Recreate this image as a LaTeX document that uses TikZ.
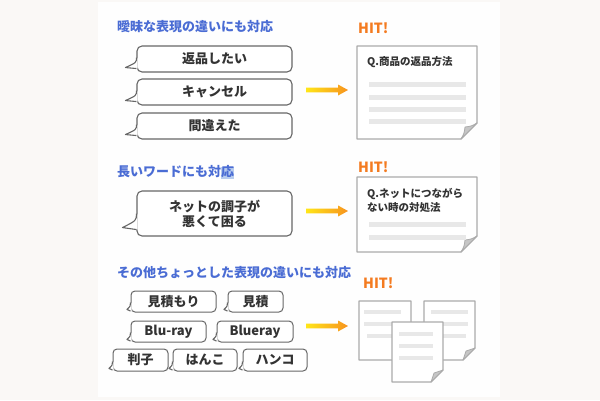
\documentclass[tikz,border=0pt]{standalone}
\usepackage{fontspec}
\setmainfont{Noto Sans CJK JP}
\usetikzlibrary{calc}
\definecolor{bg}{HTML}{FAF8F6}
\definecolor{panel}{HTML}{FEFEFE}
\definecolor{ttl}{HTML}{4A6CD4}
\definecolor{hit}{HTML}{F47B20}
\definecolor{txt}{HTML}{333333}
\definecolor{bub}{HTML}{666666}
\definecolor{docb}{HTML}{ABABAB}
\definecolor{barc}{HTML}{E8E8E8}
\definecolor{foldc}{HTML}{C6C6C6}
\definecolor{ay}{HTML}{FFE619}
\definecolor{ao}{HTML}{F7931E}
\definecolor{hl}{HTML}{B9CDEE}
\tikzset{
  ttlstyle/.style={anchor=west, text=ttl, font=\fontsize{13}{15}\selectfont\bfseries, inner sep=0},
  hitstyle/.style={anchor=west, text=hit, font=\fontsize{14}{16}\selectfont\bfseries, inner sep=0},
  bubble/.style={draw=bub, line width=1.1pt, fill=white, rounded corners=5pt, text=txt,
    font=\fontsize{13}{15}\selectfont\bfseries, align=center, inner sep=0},
  sbubble/.style={bubble, rounded corners=4pt, line width=1pt},
  tailline/.style={draw=bub, line width=1.1pt, line join=round},
  doctext/.style={anchor=west, text=txt, font=\fontsize{10.5}{14}\selectfont\bfseries, align=left, inner sep=0},
  docpaper/.style={fill=white, draw=docb, line width=1.3pt, line join=round},
  docfold/.style={fill=foldc, draw=docb, line width=0.8pt, line join=round},
  barstyle/.style={fill=barc},
}
% tail: node, start-up, tip-dx, tip-up, end-up
\newcommand\bubtail[5]{%
  \fill[white] ([shift={(1.2,-#2)}]#1.south west) .. controls ([shift={(0,{-(#2+#4)/2})}]#1.south west) .. ([shift={(#3,-#4)}]#1.south west) -- ([shift={(1.2,-#5)}]#1.south west) -- cycle;
  \draw[tailline] ([shift={(0,-#2)}]#1.south west) .. controls ([shift={(0,{-(#2+#4)/2})}]#1.south west) .. ([shift={(#3,-#4)}]#1.south west) -- ([shift={(0,-#5)}]#1.south west);
}
% document: x0 y0 x1 y1 fold
\newcommand\docshape[5]{%
  \filldraw[docpaper] (#1,#2) -- (#3,#2) -- (#3,{#4-#5}) -- ({#3-#5},#4) -- (#1,#4) -- cycle;
  \filldraw[docfold] (#3,{#4-#5}) .. controls ({#3-0.35*#5},{#4-0.8*#5}) .. ({#3-0.75*#5},{#4-0.75*#5}) .. controls ({#3-0.8*#5},{#4-0.35*#5}) .. ({#3-#5},#4) -- cycle;
}
% arrow at y
\newcommand\hitarrow[2]{%
  \coordinate (#1s) at (306,#2);
  \coordinate (#1e) at (348,#2);
  \shade[left color=ay, right color=ao] ([yshift=2.3pt]#1s) -- ([shift={(-10,-2.3)}]#1e) -- ([shift={(-10,-5.5)}]#1e) -- (#1e) -- ([shift={(-10,5.5)}]#1e) -- ([shift={(-10,2.3)}]#1e) -- ([yshift=-2.3pt]#1s) -- cycle;
}
\begin{document}
\begin{tikzpicture}[x=1pt,y=-1pt]
\useasboundingbox (0,0) rectangle (600,400);
\fill[bg] (0,0) rectangle (600,400);
\fill[panel] (98,2) rectangle (500,397);

% ---------- section 1
\node[ttlstyle] (t1) at (117,27) {曖昧な表現の違いにも対応};
\node[hitstyle] (h1) at (358,28) {HIT!};
\node[bubble, minimum width=155pt, minimum height=26pt] (b1) at (214.5,59) {返品したい};
\bubtail{b1}{15}{-11}{5}{4}
\node[bubble, minimum width=155pt, minimum height=26pt] (b2) at (214.5,92) {キャンセル};
\bubtail{b2}{15}{-11}{5}{4}
\node[bubble, minimum width=155pt, minimum height=26pt] (b3) at (214.5,126) {間違えた};
\bubtail{b3}{15}{-11}{5}{4}
\hitarrow{a1}{90}
\docshape{357}{46}{477}{139}{16}
\node[doctext] (d1) at (367,62) {Q.商品の返品方法};
\fill[barstyle] (369,82) rectangle (466,87);
\fill[barstyle] (369,94.5) rectangle (466,99.5);
\fill[barstyle] (369,107) rectangle (466,112);
\fill[barstyle] (369,119) rectangle (466,124);

% ---------- section 2
\fill[hl] (221,166.5) rectangle (234,178.5);
\node[ttlstyle] (t2) at (117,172) {長いワードにも対応};
\node[hitstyle] (h2) at (358,167) {HIT!};
\node[bubble, minimum width=155pt, minimum height=45pt] (b4) at (214.5,213.5) {ネットの調子が\\悪くて困る};
\bubtail{b4}{23}{-14}{9}{7}
\hitarrow{a2}{211}
\docshape{357}{177}{477}{252}{16}
\node[doctext] (d2) at (367,200) {Q.ネットにつながら\\ない時の対処法};
\fill[barstyle] (369,222) rectangle (466,227);
\fill[barstyle] (369,235) rectangle (466,240);

% ---------- section 3
\node[ttlstyle] (t3) at (117,273) {その他ちょっとした表現の違いにも対応};
\node[hitstyle] (h3) at (363,283) {HIT!};
\node[sbubble, minimum width=85pt, minimum height=21pt] (s1) at (173.5,301.5) {見積もり};
\bubtail{s1}{10}{-3.5}{3}{1.5}
\node[sbubble, minimum width=55pt, minimum height=21pt] (s2) at (255.5,301.5) {見積};
\bubtail{s2}{10}{-3.5}{3}{1.5}
\node[sbubble, minimum width=75pt, minimum height=21pt] (s3) at (168.5,331.5) {Blu-ray};
\bubtail{s3}{10}{-3.5}{3}{1.5}
\node[sbubble, minimum width=76pt, minimum height=21pt] (s4) at (255,331.5) {Blueray};
\bubtail{s4}{10}{-3.5}{3}{1.5}
\node[sbubble, minimum width=55pt, minimum height=22pt] (s5) at (140.5,360) {判子};
\bubtail{s5}{10}{-3.5}{3}{1.5}
\node[sbubble, minimum width=64pt, minimum height=22pt] (s6) at (205,360) {はんこ};
\bubtail{s6}{10}{-3.5}{3}{1.5}
\node[sbubble, minimum width=64pt, minimum height=22pt] (s7) at (275,360) {ハンコ};
\bubtail{s7}{10}{-3.5}{3}{1.5}
\hitarrow{a3}{326}
% back-left document
\docshape{359}{301}{411}{360}{12}
\fill[barstyle] (364,310) rectangle (401,314);
\fill[barstyle] (364,322) rectangle (401,326);
\fill[barstyle] (367,334) rectangle (401,338);
% back-right document
\docshape{424}{301}{475}{360}{12}
\fill[barstyle] (431,310) rectangle (468,314);
\fill[barstyle] (431,322) rectangle (468,326);
\fill[barstyle] (431,334) rectangle (466,338);
% front document
\docshape{392}{322}{443}{382}{12}
\fill[barstyle] (399,332) rectangle (433,336);
\fill[barstyle] (399,344) rectangle (433,348);
\fill[barstyle] (399,355.5) rectangle (433,359.5);
\end{tikzpicture}
\end{document}
